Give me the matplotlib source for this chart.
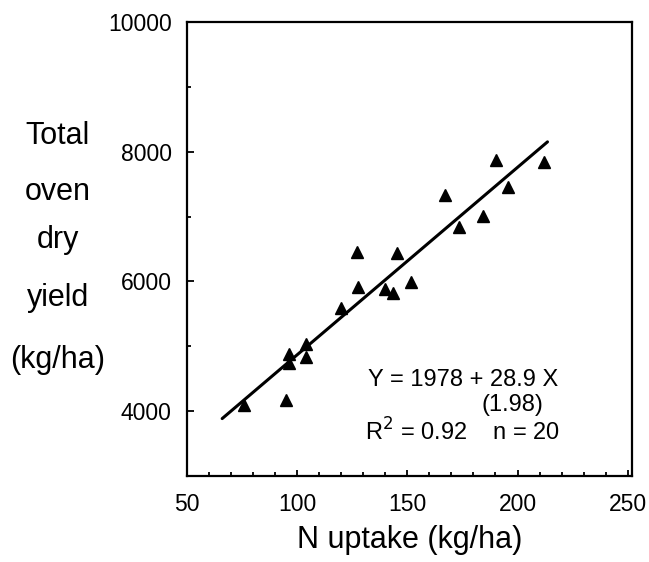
import matplotlib.pyplot as plt
from matplotlib.ticker import MultipleLocator

# N uptake (kg/ha) and total oven dry yield (kg/ha)
n_uptake = [75.7, 95.0, 96.2, 96.2, 104.1, 104.2, 120.1, 127.3, 127.7, 140.1,
            143.6, 145.5, 151.5, 167.0, 173.5, 184.4, 190.1, 195.7, 212.1]
dry_yield = [4093, 4170, 4737, 4880, 4839, 5030, 5595, 6451, 5920, 5884,
             5818, 6445, 5988, 7336, 6837, 7001, 7876, 7455, 7835]

# regression Y = 1978 + 28.9 X, drawn over this range
intercept = 1978
slope = 28.9
fit_range = [66, 213.6]

x_ticks = [50, 100, 150, 200, 250]
y_ticks = [4000, 6000, 8000, 10000]

plt.rcParams['font.family'] = ['Liberation Sans', 'DejaVu Sans']

fig = plt.figure(figsize=(6.49, 5.62), dpi=100)
ax = fig.add_axes([0.288, 0.153, 0.686, 0.808])

ax.plot(n_uptake, dry_yield, '^', color='black', ms=8.5)
fit_y = [intercept + slope * x for x in fit_range]
ax.plot(fit_range, fit_y, '-', color='black', lw=2.2, solid_capstyle='round')

ax.set_xlim(50, 252)
ax.set_ylim(3000, 10000)
ax.set_xticks(x_ticks)
ax.set_yticks(y_ticks)
ax.xaxis.set_minor_locator(MultipleLocator(10))
ax.yaxis.set_minor_locator(MultipleLocator(1000))
ax.tick_params(which='both', direction='in', width=1.3, labelsize=16.5)
ax.tick_params(axis='y', which='major', length=5, pad=11)
ax.tick_params(axis='x', which='major', length=4, pad=12)
ax.tick_params(which='minor', length=3)
for sp in ax.spines.values():
    sp.set_linewidth(1.6)

ax.set_xlabel('N uptake (kg/ha)', fontsize=22, labelpad=7)

# stacked y label on the left
for word, yy in zip(['Total', 'oven', 'dry', 'yield', '(kg/ha)'],
                    [136, 192, 240, 298, 360]):
    fig.text(58 / 649, 1 - yy / 562, word, fontsize=22,
             ha='center', va='center')

ax.text(132.3, 4479, 'Y = 1978 + 28.9 X', fontsize=17, va='center')
ax.text(197.8, 4093, '(1.98)', fontsize=17, ha='center', va='center')
ax.text(131, 3676, r'R$^2$ = 0.92    n = 20', fontsize=17, va='center')

plt.savefig('out.png', dpi=100)
plt.close()
